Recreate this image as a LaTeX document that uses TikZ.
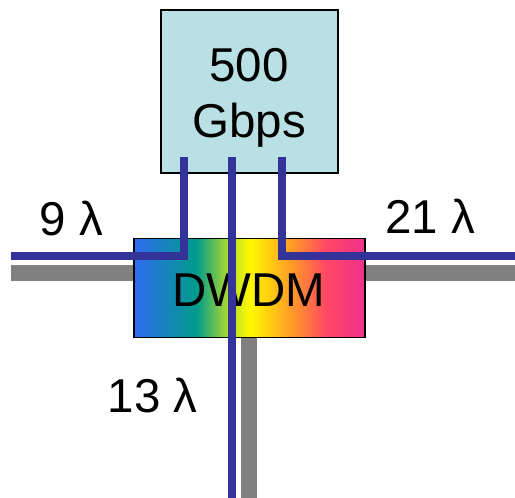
\documentclass[tikz,border=0pt]{standalone}
\usepackage{fontspec}
\setmainfont{Liberation Sans}
\usetikzlibrary{backgrounds}
\definecolor{boxcyan}{RGB}{185,224,228}
\definecolor{fiber}{RGB}{51,51,153}
\definecolor{duct}{RGB}{128,128,128}
\definecolor{dwA}{RGB}{45,108,240}
\definecolor{dwB}{RGB}{0,156,140}
\definecolor{dwC}{RGB}{165,215,50}
\definecolor{dwD}{RGB}{255,250,0}
\definecolor{dwE}{RGB}{255,150,40}
\definecolor{dwF}{RGB}{255,72,100}
\definecolor{dwG}{RGB}{240,48,140}
\pgfdeclarehorizontalshading{dwdmshade}{100bp}{color(0bp)=(dwA); color(25bp)=(dwA); color(38.5bp)=(dwB); color(45bp)=(dwC); color(50bp)=(dwD); color(59.5bp)=(dwE); color(66.5bp)=(dwF); color(75bp)=(dwG); color(100bp)=(dwG)}
\tikzset{
  bigtext/.style={font=\fontsize{47.5}{56}\selectfont, inner sep=0pt, anchor=base},
  ductline/.style={draw=duct, line width=16pt},
  fiberline/.style={draw=fiber, line width=8pt, line join=miter},
}
\begin{document}
\begin{tikzpicture}[x=1pt,y=-1pt]
\useasboundingbox (0,0) rectangle (515,498);
% nodes
\node[draw=black, line width=1.5pt, shading=dwdmshade, minimum width=231pt, minimum height=99pt, inner sep=0pt] (dwdm) at (249.5,288) {};
\node[draw=black, line width=2pt, fill=boxcyan, minimum width=177pt, minimum height=163pt, inner sep=0pt] (top) at (249.5,91.5) {};
% ducts
\coordinate (gl) at (11,272.5);
\coordinate (gr) at (515,272.5);
\coordinate (gb) at (249,498);
\begin{scope}[on background layer]
\draw[ductline] (gl) -- (dwdm.west |- gl);
\draw[ductline] (dwdm.east |- gr) -- (gr);
\draw[ductline] (dwdm.south -| gb) -- (gb);
\end{scope}
% texts
\node[bigtext] (t500) at (249,81) {500};
\node[bigtext] (tgbps) at (249,137) {Gbps};
\node[bigtext] (tdwdm) at (249,306) {DWDM};
\node[bigtext] (l9) at (71.5,235) {9 λ};
\node[bigtext] (l21) at (430,233) {21 λ};
\node[bigtext] (l13) at (152.5,412) {13 λ};
% fibers
\coordinate (t1) at (184,157);
\coordinate (t2) at (232,157);
\coordinate (t3) at (282,157);
\coordinate (bl) at (11,255.5);
\coordinate (br) at (515,255.5);
\coordinate (bb) at (232,498);
\draw[fiberline] (t1) |- (bl);
\draw[fiberline] (t3) |- (br);
\draw[fiberline] (t2) -- (bb);
\end{tikzpicture}
\end{document}
